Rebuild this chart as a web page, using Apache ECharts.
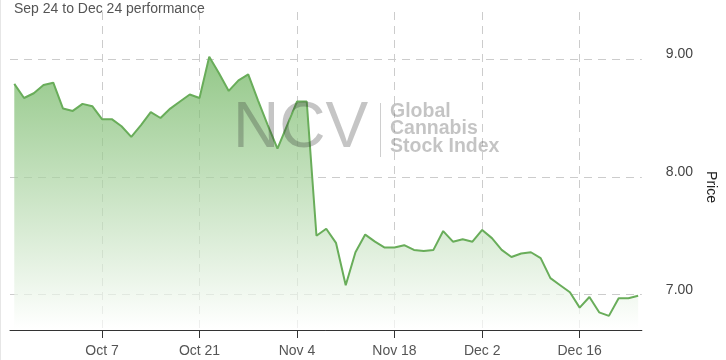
<!DOCTYPE html>
<html><head><meta charset="utf-8">
<script src="https://cdn.jsdelivr.net/npm/echarts@6/dist/echarts.min.js"></script>
<style>html,body{margin:0;padding:0;background:#fff}#c{width:726px;height:360px}</style>
</head><body><div id="c"></div>
<script>
const titleText = 'Sep 24 to Dec 24 performance';
const dates = ['Sep 24','Sep 25','Sep 26','Sep 27','Sep 30',
  'Oct 1','Oct 2','Oct 3','Oct 4','Oct 7','Oct 8','Oct 9','Oct 10','Oct 11','Oct 14','Oct 15','Oct 16','Oct 17','Oct 18',
  'Oct 21','Oct 22','Oct 23','Oct 24','Oct 25','Oct 28','Oct 29','Oct 30','Oct 31',
  'Nov 1','Nov 4','Nov 5','Nov 6','Nov 7','Nov 8','Nov 11','Nov 12','Nov 13','Nov 14','Nov 15',
  'Nov 18','Nov 19','Nov 20','Nov 21','Nov 22','Nov 25','Nov 26','Nov 27','Nov 29',
  'Dec 2','Dec 3','Dec 4','Dec 5','Dec 6','Dec 9','Dec 10','Dec 11','Dec 12','Dec 13',
  'Dec 16','Dec 17','Dec 18','Dec 19','Dec 20','Dec 23','Dec 24'];
const prices = [8.79,8.67,8.71,8.78,8.80,8.58,8.56,8.62,8.60,8.49,8.49,8.43,8.34,8.44,8.55,8.50,8.58,8.64,8.70,8.67,
  9.02,8.88,8.73,8.82,8.87,8.65,8.44,8.24,8.44,8.64,8.64,7.50,7.56,7.44,7.08,7.36,7.51,7.45,7.40,7.40,
  7.42,7.38,7.37,7.38,7.54,7.45,7.47,7.45,7.55,7.48,7.38,7.32,7.35,7.36,7.31,7.14,7.08,7.02,6.89,6.98,
  6.85,6.82,6.97,6.97,6.99];
const xTickLabels = ['Oct 7','Oct 21','Nov 4','Nov 18','Dec 2','Dec 16'];
const yTickValues = [7, 8, 9];
const yAxisName = 'Price';
const wmBig = 'NCV';
const wmSmall = ['Global','Cannabis','Stock Index'];

const chart = echarts.init(document.getElementById('c'), null, {renderer:'canvas'});
const xTicks = xTickLabels.map(l => dates.indexOf(l));
const seriesData = prices.map((v, i) => [i, v]);
const font = '"Liberation Sans", Arial, sans-serif';
const grid = {color:'#cccccc', type:[8,6], width:1};

chart.setOption({
  animation: false,
  title: {text: titleText, left: 9, top: -3,
    textStyle: {fontSize: 14, fontWeight: 'normal', color: '#555', fontFamily: font}},
  grid: {left: 10, right: 83, top: 12, bottom: 30},
  xAxis: {type: 'value', min: -0.44, max: 64.38,
    axisLine: {show: true, onZero: false, lineStyle: {color: '#333', width: 1}},
    axisTick: {show: true, length: 8, customValues: xTicks, lineStyle: {color: '#333'}},
    axisLabel: {customValues: xTicks, formatter: v => dates[Math.round(v)], fontSize: 14,
      color: '#555', margin: 14, fontFamily: font},
    splitLine: {show: true, lineStyle: grid}},
  yAxis: {type: 'value', position: 'right', min: 6.7, max: 9.4,
    name: yAxisName, nameLocation: 'middle', nameRotate: -90, nameGap: 52,
    nameTextStyle: {fontSize: 14, color: '#222', fontFamily: font, padding: [0, 0, 0, 32]},
    axisLine: {show: false}, axisTick: {show: false, customValues: yTickValues},
    axisLabel: {customValues: yTickValues, formatter: v => v.toFixed(2), margin: 24, fontSize: 14,
      color: '#444', fontFamily: font, verticalAlign: 'bottom', lineHeight: 10},
    splitLine: {show: true, lineStyle: grid}},
  series: [{type: 'line', data: seriesData, symbol: 'none', z: 3,
    lineStyle: {color: '#69ad5a', width: 2},
    areaStyle: {color: new echarts.graphic.LinearGradient(0, 0, 0, 1, [
      {offset: 0, color: '#64af54'}, {offset: 1, color: '#ffffff'}])}}],
  graphic: [
    {type: 'line', z: 100, shape: {x1: 0.5, y1: 0, x2: 0.5, y2: 360}, style: {stroke: '#e6e6e6', lineWidth: 1}},
    {type: 'text', z: 100, x: 233, y: 129, style: {text: wmBig, font: '64px "Liberation Sans", Arial, sans-serif',
      fill: 'rgba(40,40,40,0.27)', verticalAlign: 'middle'}},
    {type: 'line', z: 100, shape: {x1: 380.5, y1: 103, x2: 380.5, y2: 157}, style: {stroke: 'rgba(60,60,60,0.25)', lineWidth: 1}},
    {type: 'text', z: 100, x: 390, y: 102.5, style: {text: wmSmall.join('\n'), font: 'bold 19.5px "Liberation Sans", Arial, sans-serif',
      lineHeight: 17.5, fill: 'rgba(60,60,60,0.3)', verticalAlign: 'top'}}
  ]
});
</script></body></html>
